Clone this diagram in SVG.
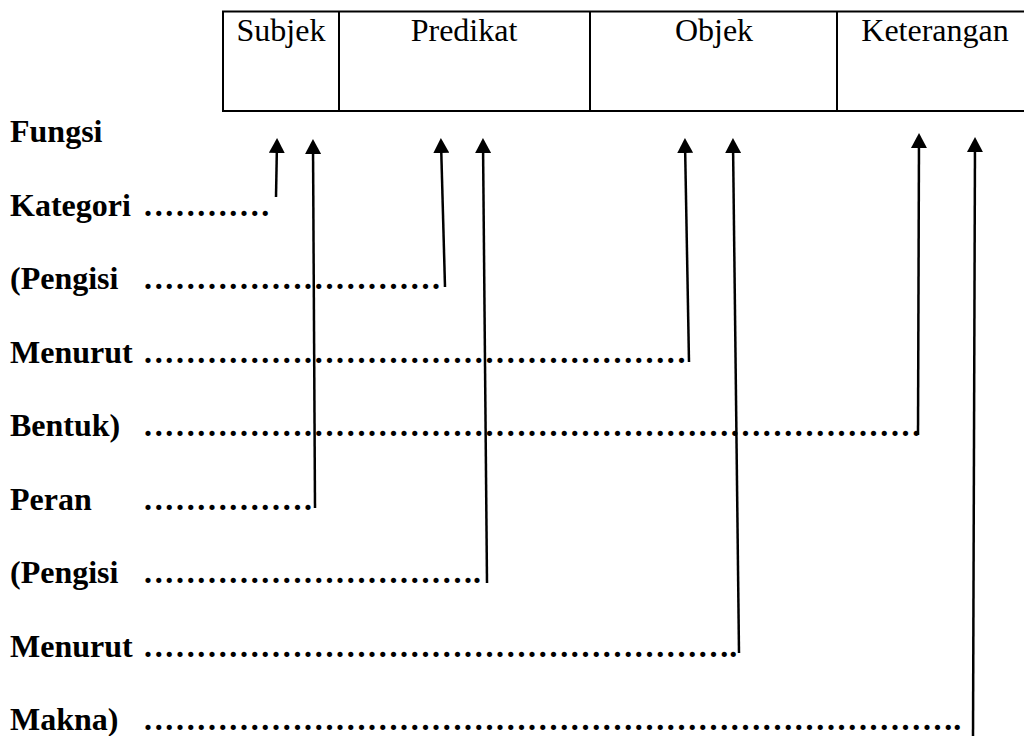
<svg xmlns="http://www.w3.org/2000/svg" width="1024" height="736" viewBox="0 0 1024 736">
<style>
.hd{font-family:"Liberation Serif","Times New Roman",serif;font-size:32px;fill:#000;text-anchor:middle}
.lb{font-family:"Liberation Serif","Times New Roman",serif;font-size:32px;font-weight:bold;fill:#000}
.dt{font-family:"Liberation Serif","Times New Roman",serif;font-size:32px;font-weight:bold;fill:#000;letter-spacing:2.67px}
.cn{stroke:#000;stroke-width:2.5;fill:none}
.bx{stroke:#000;stroke-width:2;fill:none}
</style>
<defs>
<marker id="ah" markerUnits="userSpaceOnUse" viewBox="0 0 15 16" markerWidth="15" markerHeight="16" refX="11" refY="8" orient="auto">
<path d="M0,0 L15,8 L0,16 z" fill="#000"/>
</marker>
</defs>
<rect width="1024" height="736" fill="#fff"/>
<g id="header">
<rect class="bx" x="223" y="11.5" width="820" height="99.5"/>
<line class="bx" x1="339" y1="11.5" x2="339" y2="111"/>
<line class="bx" x1="590" y1="11.5" x2="590" y2="111"/>
<line class="bx" x1="837" y1="11.5" x2="837" y2="111"/>
</g>
<g id="subjek"><text class="hd" x="281" y="41">Subjek</text></g>
<g id="predikat"><text class="hd" x="464" y="41">Predikat</text></g>
<g id="objek"><text class="hd" x="714" y="41">Objek</text></g>
<g id="keterangan"><text class="hd" x="935" y="41">Keterangan</text></g>
<g id="labels">
<text class="lb" x="10" y="142">Fungsi</text>
<text class="lb" x="10" y="215.5">Kategori</text>
<text class="lb" x="10" y="289">(Pengisi</text>
<text class="lb" x="10" y="362.5">Menurut</text>
<text class="lb" x="10" y="436">Bentuk)</text>
<text class="lb" x="10" y="509.5">Peran</text>
<text class="lb" x="10" y="583">(Pengisi</text>
<text class="lb" x="10" y="656.5">Menurut</text>
<text class="lb" x="10" y="730">Makna)</text>
</g>
<g id="leaders">
<text class="dt" x="144" y="215.5">............</text>
<text class="dt" x="144" y="289">............................</text>
<text class="dt" x="144" y="362.5">...................................................</text>
<text class="dt" x="144" y="436">.........................................................................</text>
<text class="dt" x="144" y="509.5">................</text>
<text class="dt" x="144" y="583">..............................<tspan style="letter-spacing:1px">..</tspan></text>
<text class="dt" x="144" y="656.5">......................................................<tspan style="letter-spacing:1px">..</tspan></text>
<text class="dt" x="144" y="730">...........................................................................<tspan style="letter-spacing:1px">..</tspan></text>
</g>
<g id="connectors">
<line class="cn" x1="276" y1="197" x2="277" y2="142" marker-end="url(#ah)"/>
<line class="cn" x1="315" y1="508" x2="313" y2="143" marker-end="url(#ah)"/>
<line class="cn" x1="445" y1="287" x2="441" y2="142" marker-end="url(#ah)"/>
<line class="cn" x1="487" y1="583" x2="483" y2="142" marker-end="url(#ah)"/>
<line class="cn" x1="689" y1="362" x2="685" y2="142" marker-end="url(#ah)"/>
<line class="cn" x1="739" y1="653" x2="733" y2="142" marker-end="url(#ah)"/>
<line class="cn" x1="918" y1="435" x2="919" y2="137" marker-end="url(#ah)"/>
<line class="cn" x1="973" y1="740" x2="975" y2="141" marker-end="url(#ah)"/>
</g>
</svg>
